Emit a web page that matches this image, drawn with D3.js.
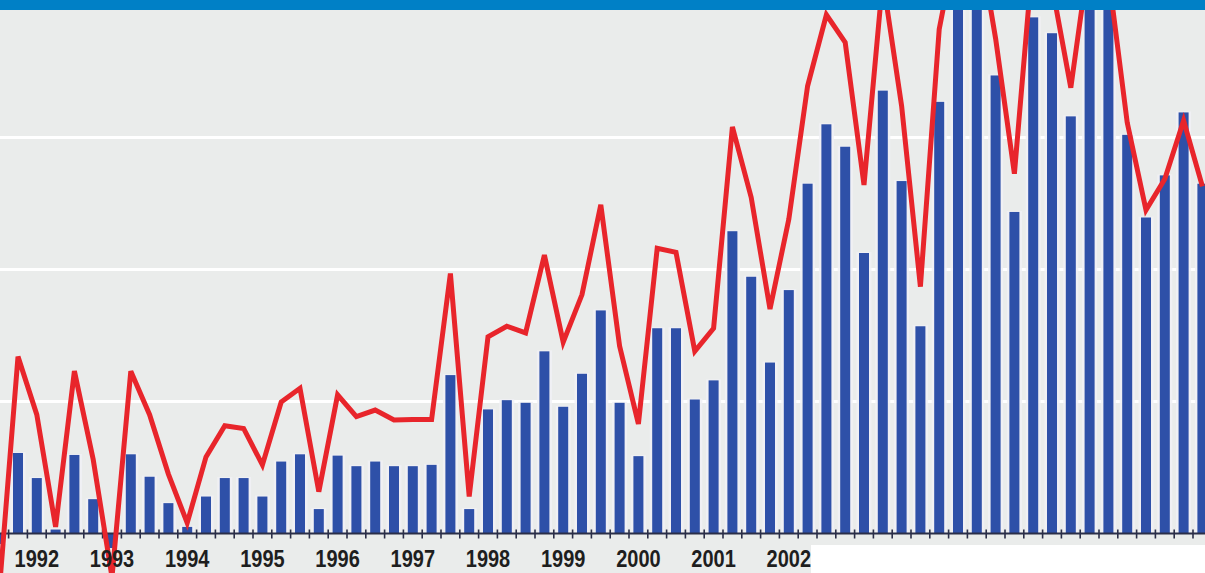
<!DOCTYPE html>
<html>
<head>
<meta charset="utf-8">
<script src="https://cdn.jsdelivr.net/npm/d3@7/dist/d3.min.js"></script>
<style>
  html, body { margin: 0; padding: 0; background: #ffffff; }
  svg { display: block; }
</style>
</head>
<body>
<svg id="chart" width="1205" height="573"></svg>
<script>
// ---- data (quarterly) ----
const categories = [
  "1991Q3","1991Q4",
  "1992Q1","1992Q2","1992Q3","1992Q4",
  "1993Q1","1993Q2","1993Q3","1993Q4",
  "1994Q1","1994Q2","1994Q3","1994Q4",
  "1995Q1","1995Q2","1995Q3","1995Q4",
  "1996Q1","1996Q2","1996Q3","1996Q4",
  "1997Q1","1997Q2","1997Q3","1997Q4",
  "1998Q1","1998Q2","1998Q3","1998Q4",
  "1999Q1","1999Q2","1999Q3","1999Q4",
  "2000Q1","2000Q2","2000Q3","2000Q4",
  "2001Q1","2001Q2","2001Q3","2001Q4",
  "2002Q1","2002Q2","2002Q3","2002Q4",
  "2003Q1","2003Q2","2003Q3","2003Q4",
  "2004Q1","2004Q2","2004Q3","2004Q4",
  "2005Q1","2005Q2","2005Q3","2005Q4",
  "2006Q1","2006Q2","2006Q3","2006Q4",
  "2007Q1","2007Q2","2007Q3"
];
const barValues = [
  -8, 61,
  42, 3, 59.5, 26,
  -11, 60, 43, 23,
  5, 28, 42, 42,
  28, 54.5, 60, 18.5,
  59, 51, 54.5, 51,
  51, 52, 120, 18.5,
  94, 101, 99, 138,
  96, 121, 169, 99,
  58.6, 155.5, 155.5, 101.5,
  116, 229, 194.5, 129.5,
  184.4, 265, 310, 293,
  212.5, 335.5, 267, 157,
  327, 420, 420, 347,
  243.6, 391, 379, 316,
  410, 405, 302, 239.4,
  271.3, 319, 265
];
const lineValues = [
  -44, 134,
  90, 5, 123, 56,
  -33, 123, 90, 45,
  8, 58, 81.6, 79.6,
  52, 99.6, 110, 31.7,
  105, 88.5, 93.5, 86,
  86.3, 86.3, 197, 28,
  149, 157, 152, 211,
  145, 181, 249, 142,
  83, 216, 213, 138,
  155.5, 308, 254.6, 170,
  238, 339, 393, 372,
  264, 420, 324, 187,
  382, 455, 460, 375,
  272.6, 440, 415, 337.7,
  440, 424, 311.4, 245,
  268.5, 312.8, 263
];
const yearTickCats = ["1992Q1","1993Q1","1994Q1","1995Q1","1996Q1","1997Q1","1998Q1","1999Q1","2000Q1","2001Q1","2002Q1"];
const yearTickLabels = ["1992","1993","1994","1995","1996","1997","1998","1999","2000","2001","2002"];
const gridValues = [100, 200, 300, 400];

// ---- layout ----
const W = 1205, H = 573;
const svg = d3.select("#chart");

const x = d3.scaleBand()
  .domain(categories)
  .range([-10.2, -10.2 + categories.length * 18.8])
  .paddingInner(0.468)
  .paddingOuter(0.234);

const y = d3.scaleLinear().domain([0, 100]).range([533.5, 401.5]);

// background
svg.append("rect").attr("x", 0).attr("y", 0).attr("width", W).attr("height", H).attr("fill", "#eaeceb");

// gridlines
svg.append("g").selectAll("line").data(gridValues).join("line")
  .attr("x1", 0).attr("x2", W)
  .attr("y1", d => y(d)).attr("y2", d => y(d))
  .attr("stroke", "#ffffff").attr("stroke-width", 3);

const bw = x.bandwidth();

// soft light halo around bars (as in the printed original)
svg.append("g").selectAll("rect").data(categories).join("rect")
  .attr("x", d => x(d) - 2.5)
  .attr("width", bw + 5)
  .attr("y", (d, i) => Math.min(y(barValues[i]), y(0)) - 1)
  .attr("height", (d, i) => Math.abs(y(barValues[i]) - y(0)) + 1)
  .attr("fill", "#f1f1f6")
  .attr("opacity", 0.85);

// bars
svg.append("g").selectAll("rect").data(categories).join("rect")
  .attr("x", d => x(d))
  .attr("width", bw)
  .attr("y", (d, i) => Math.min(y(barValues[i]), y(0)))
  .attr("height", (d, i) => Math.abs(y(barValues[i]) - y(0)))
  .attr("fill", "#2e50a8");

// axis line + ticks
const step = x.step();
svg.append("line").attr("x1", 0).attr("x2", W).attr("y1", y(0)).attr("y2", y(0))
  .attr("stroke", "#2a2e48").attr("stroke-width", 2);
svg.append("g").selectAll("line").data(categories).join("line")
  .attr("x1", d => x(d) + bw / 2 - step / 2)
  .attr("x2", d => x(d) + bw / 2 - step / 2)
  .attr("y1", y(0) - 4).attr("y2", y(0) + 5)
  .attr("stroke", "#2a2e48").attr("stroke-width", 1.6);

// line series
const line = d3.line()
  .x((d, i) => x(categories[i]) + bw / 2)
  .y(d => y(d));
svg.append("path").datum(lineValues)
  .attr("d", line)
  .attr("fill", "none")
  .attr("stroke", "#e8252b")
  .attr("stroke-width", 5)
  .attr("stroke-linejoin", "miter")
  .attr("stroke-miterlimit", 4);

// year labels
const vScale = 1.15;
const axis = d3.axisBottom(x)
  .tickValues(yearTickCats)
  .tickFormat((d) => yearTickLabels[yearTickCats.indexOf(d)])
  .tickSize(0)
  .tickPadding(0);
const ax = svg.append("g").attr("transform", `translate(0, ${y(0)})`).call(axis);
ax.select(".domain").remove();
ax.selectAll("text")
  .attr("y", 34 / vScale)
  .attr("dy", 0)
  .attr("transform", `scale(1, ${vScale})`)
  .attr("fill", "#1e1e1e")
  .style("font-family", "'Liberation Sans', Arial, Helvetica, sans-serif")
  .style("font-weight", "bold")
  .style("font-size", "20px");

// white patch bottom right
svg.append("rect").attr("x", 811).attr("y", 545).attr("width", W - 811).attr("height", H - 545).attr("fill", "#ffffff");

// header band
svg.append("rect").attr("x", 0).attr("y", 0).attr("width", W).attr("height", 10).attr("fill", "#0080c6");
</script>
</body>
</html>
